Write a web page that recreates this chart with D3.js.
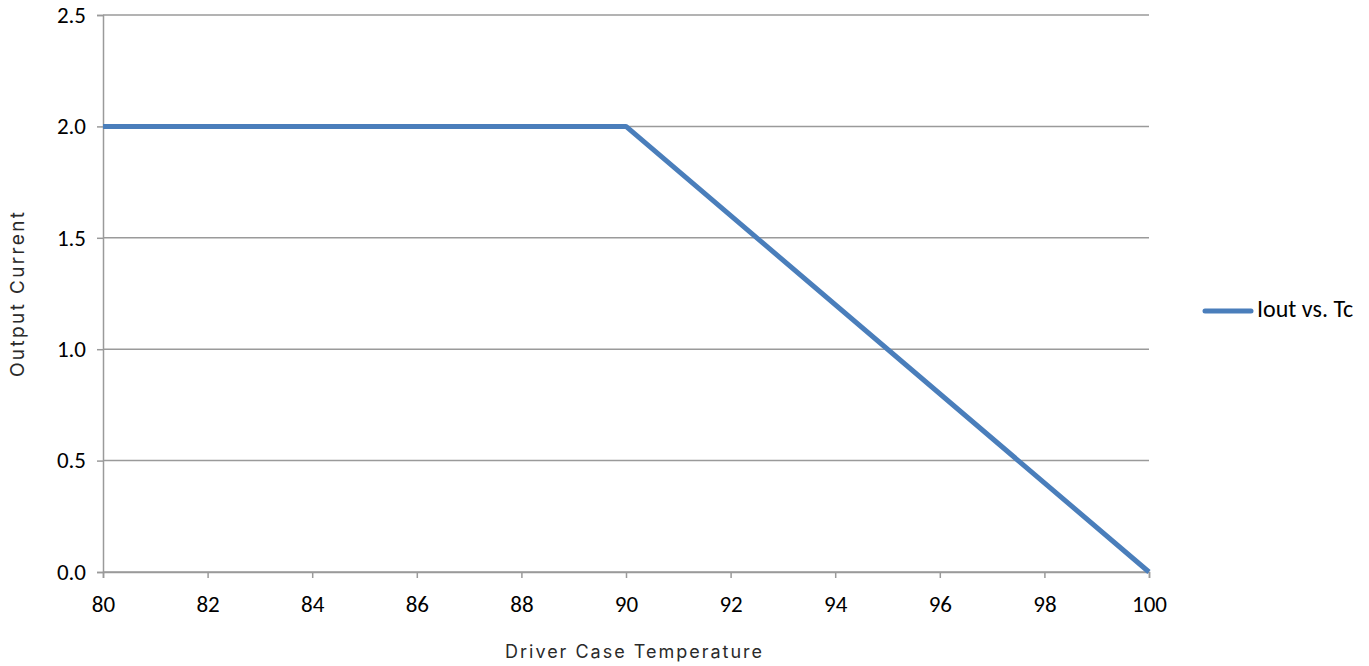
<!DOCTYPE html>
<html><head><meta charset="utf-8">
<script src="https://cdn.jsdelivr.net/npm/d3@7"></script>
<style>body{margin:0;background:#fff;} svg{display:block;}</style>
</head><body>
<svg id="chart" width="1369" height="666"></svg>
<script>
const temps = [80, 90, 100];
const currents = [2.0, 2.0, 0.0];
const xTicks = [80, 82, 84, 86, 88, 90, 92, 94, 96, 98, 100];
const yTicks = [0.0, 0.5, 1.0, 1.5, 2.0, 2.5];
const seriesName = "Iout vs. Tc";
const xTitle = "Driver Case Temperature";
const yTitle = "Output Current";

const svg = d3.select("#chart");
const m = {left: 103, right: 1149, top: 15, bottom: 572};
const x = d3.scaleLinear().domain([80, 100]).range([m.left, m.right]);
const y = d3.scaleLinear().domain([0, 2.5]).range([m.bottom, m.top]);
const tickFont = "Carlito, 'Open Sans', 'Noto Sans', sans-serif";
const titleFont = "Inter, 'DejaVu Sans', sans-serif";
const gridColor = "#9a9a9a";
const lineColor = "#4a7ebb";

// gridlines
svg.append("g").selectAll("line").data(yTicks).join("line")
  .attr("x1", m.left).attr("x2", m.right)
  .attr("y1", d => y(d)).attr("y2", d => y(d))
  .attr("stroke", gridColor).attr("stroke-width", 1.5);

// y axis
const yAxis = svg.append("g").attr("transform", `translate(${m.left},0)`)
  .call(d3.axisLeft(y).tickValues(yTicks).tickFormat(d3.format(".1f")).tickSize(6).tickPadding(11));
// x axis
const xAxis = svg.append("g").attr("transform", `translate(0,${m.bottom})`)
  .call(d3.axisBottom(x).tickValues(xTicks).tickFormat(d3.format("d")).tickSize(6).tickPadding(17.5));
[yAxis, xAxis].forEach(a => {
  a.select(".domain").attr("stroke", gridColor).attr("stroke-width", 1.5);
  a.selectAll(".tick line").attr("stroke", gridColor).attr("stroke-width", 1.5);
  a.selectAll(".tick text").attr("fill", "#000").style("font-family", tickFont).style("font-size", "23px");
});

// line
const line = d3.line().x((d, i) => x(temps[i])).y(d => y(d));
svg.append("path").datum(currents)
  .attr("d", line).attr("fill", "none")
  .attr("stroke", lineColor).attr("stroke-width", 5)
  .attr("stroke-linejoin", "round");

// legend
svg.append("line").attr("x1", 1205).attr("x2", 1251).attr("y1", 311).attr("y2", 311)
  .attr("stroke", lineColor).attr("stroke-width", 5).attr("stroke-linecap", "round");
svg.append("text").attr("x", 1257).attr("y", 317).text(seriesName)
  .style("font-family", tickFont).style("font-size", "24px").attr("fill", "#000");

// axis titles
svg.append("text").attr("x", 505).attr("y", 658)
  .attr("textLength", 257).attr("lengthAdjust", "spacing")
  .text(xTitle).style("font-family", titleFont).style("font-size", "18px").attr("fill", "#2a2a2a");
svg.append("text").attr("transform", "translate(24,377) rotate(-90)")
  .attr("textLength", 165).attr("lengthAdjust", "spacing")
  .text(yTitle).style("font-family", titleFont).style("font-size", "19px").attr("fill", "#2a2a2a");
</script>
</body></html>
